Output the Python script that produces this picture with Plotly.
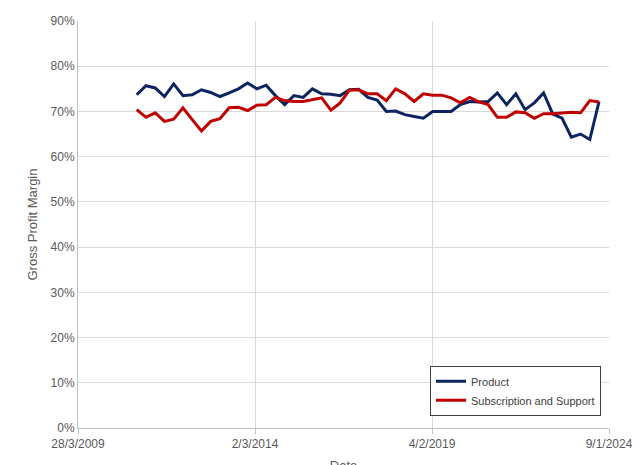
import pandas as pd
import plotly.graph_objects as go

product = [73.7, 75.7, 75.2, 73.3, 76.1, 73.5, 73.7, 74.8, 74.2, 73.3, 74.1, 75.0, 76.3,
           75.0, 75.8, 73.5, 71.5, 73.5, 73.1, 75.0, 73.9, 73.8, 73.5, 74.8, 74.9, 73.1,
           72.5, 70.0, 70.1, 69.3, 68.9, 68.5, 70.0, 70.0, 70.0, 71.5, 72.2, 72.1, 72.2,
           74.1, 71.5, 73.9, 70.4, 71.9, 74.1, 69.4, 68.5, 64.3, 65.0, 63.8, 72.2]
subscription = [70.4, 68.7, 69.7, 67.8, 68.3, 70.8, 68.2, 65.7, 67.8, 68.4, 70.8, 70.9, 70.2,
                71.4, 71.5, 73.1, 72.4, 72.2, 72.2, 72.6, 73.0, 70.3, 71.9, 74.7, 74.8, 73.9,
                73.9, 72.4, 75.0, 73.9, 72.2, 73.9, 73.6, 73.6, 73.0, 71.9, 73.1, 72.1, 71.5,
                68.7, 68.7, 69.9, 69.7, 68.5, 69.5, 69.5, 69.7, 69.8, 69.7, 72.4, 72.1]
dates = pd.date_range("2010-11-15", "2023-09-30", periods=len(product))

tick_dates = ["2009-03-28", "2014-03-02", "2019-02-04", "2024-01-09"]
tick_text = ["28/3/2009", "2/3/2014", "4/2/2019", "9/1/2024"]

fig = go.Figure()
fig.add_trace(go.Scatter(x=dates, y=[v / 100 for v in product], mode="lines",
                         name="Product", line=dict(color="#0c2461", width=3)))
fig.add_trace(go.Scatter(x=dates, y=[v / 100 for v in subscription], mode="lines",
                         name="Subscription and Support", line=dict(color="#c00000", width=3)))

fig.update_layout(
    width=640, height=465,
    margin=dict(l=70, r=39, t=13, b=45),
    plot_bgcolor="white", paper_bgcolor="white",
    font=dict(family="Liberation Sans, Arial", size=12, color="#595959"),
    legend=dict(x=0.985, y=0.03, xanchor="right", yanchor="bottom",
                bordercolor="#404040", borderwidth=1, bgcolor="white",
                font=dict(size=11, color="#404040")),
)
fig.update_xaxes(
    type="date", range=[tick_dates[0], tick_dates[-1]],
    tickvals=tick_dates, ticktext=tick_text, automargin=False,
    showgrid=True, gridcolor="#d9d9d9", showline=True, linecolor="#bfbfbf",
    ticks="outside", tickcolor="#bfbfbf",
    title=dict(text="Date", font=dict(size=13), standoff=12),
)
fig.update_yaxes(
    range=[0, 0.9], dtick=0.1, tickformat=".0%", automargin=False,
    showgrid=True, gridcolor="#d9d9d9", showline=True, linecolor="#bfbfbf",
    zeroline=False,
    title=dict(text="Gross Profit Margin", font=dict(size=13), standoff=10),
)

fig.write_html("out.html")
